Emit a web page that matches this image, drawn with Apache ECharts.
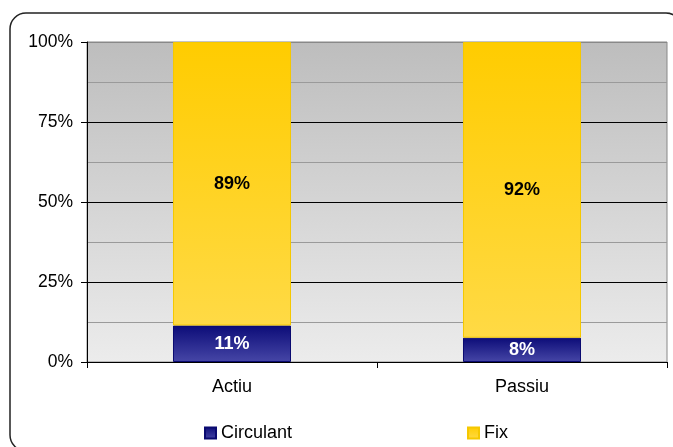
<!DOCTYPE html>
<html>
<head>
<meta charset="utf-8">
<script src="https://cdn.jsdelivr.net/npm/echarts@6/dist/echarts.min.js"></script>
<style>
html,body{margin:0;padding:0;background:#fff;}
#chart{width:673px;height:447px;}
</style>
</head>
<body>
<div id="chart"></div>
<script>
var categories = ['Actiu', 'Passiu'];
var circulant = [11.4, 7.6];
var fix = [88.6, 92.4];
var yTicks = [0, 25, 50, 75, 100];

var chart = echarts.init(document.getElementById('chart'));
var FONT = '"Liberation Sans", Arial, sans-serif';

var blueGrad = new echarts.graphic.LinearGradient(0, 0, 0, 1, [
  {offset: 0, color: '#0c0c78'},
  {offset: 1, color: '#4646a6'}
]);
var yellowGrad = new echarts.graphic.LinearGradient(0, 0, 0, 1, [
  {offset: 0, color: '#ffcc00'},
  {offset: 1, color: '#ffda45'}
]);
var bgGrad = new echarts.graphic.LinearGradient(0, 0, 0, 1, [
  {offset: 0, color: '#bdbdbd'},
  {offset: 1, color: '#ececec'}
]);

chart.setOption({
  animation: false,
  textStyle: {fontFamily: FONT},
  graphic: [{
    type: 'rect',
    shape: {x: 10, y: 13, width: 672, height: 438, r: 16},
    style: {fill: 'none', stroke: '#222', lineWidth: 1.5},
    z: -1
  }],
  grid: {
    left: 87, right: 6, top: 42, bottom: 85,
    show: true,
    backgroundColor: bgGrad,
    borderColor: '#888',
    borderWidth: 1
  },
  legend: [{
    data: ['Circulant'],
    left: 199, top: 419,
    itemWidth: 11, itemHeight: 11, itemGap: 6,
    icon: 'rect',
    textStyle: {fontSize: 18, color: '#000', fontFamily: FONT}
  }, {
    data: ['Fix'],
    left: 462, top: 419,
    itemWidth: 11, itemHeight: 11,
    icon: 'rect',
    textStyle: {fontSize: 18, color: '#000', fontFamily: FONT}
  }],
  xAxis: {
    type: 'category',
    data: categories,
    axisLine: {lineStyle: {color: '#000', width: 1}},
    axisTick: {show: true, alignWithLabel: false, length: 6, lineStyle: {color: '#000'}},
    axisLabel: {fontSize: 18, color: '#000', margin: 16, fontFamily: FONT},
    splitLine: {show: false}
  },
  yAxis: {
    type: 'value',
    min: yTicks[0], max: yTicks[yTicks.length - 1], interval: 25,
    axisLine: {show: true, lineStyle: {color: '#000', width: 1}},
    axisTick: {show: true, length: 6, lineStyle: {color: '#000'}},
    axisLabel: {fontSize: 17.5, color: '#000', margin: 14, fontFamily: FONT, formatter: '{value}%'},
    splitLine: {show: true, lineStyle: {color: ['#000', '#000', '#000', '#000', '#888'], width: 1}},
    minorTick: {show: false, splitNumber: 2},
    minorSplitLine: {show: true, lineStyle: {color: '#9a9a9a', width: 1}}
  },
  series: [{
    name: 'Circulant',
    type: 'bar',
    stack: 'total',
    data: circulant,
    barWidth: '40.7%',
    itemStyle: {color: blueGrad, borderColor: '#0a0a70', borderWidth: 1},
    label: {
      show: true, position: 'inside', color: '#fff', fontSize: 18, fontWeight: 'bold', fontFamily: FONT,
      formatter: function (p) { return Math.round(p.value) + '%'; }
    }
  }, {
    name: 'Fix',
    type: 'bar',
    stack: 'total',
    data: fix,
    itemStyle: {color: yellowGrad, borderColor: '#f5c800', borderWidth: 1},
    label: {
      show: true, position: 'inside', color: '#000', fontSize: 18, fontWeight: 'bold', fontFamily: FONT,
      formatter: function (p) { return Math.round(p.value) + '%'; }
    }
  }]
});
</script>
</body>
</html>
